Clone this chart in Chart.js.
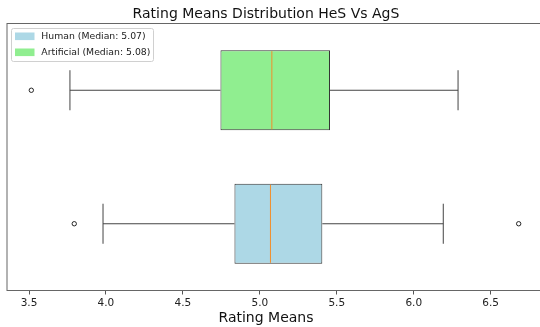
<!DOCTYPE html>
<html>
<head>
<meta charset="utf-8">
<title>Rating Means Distribution HeS Vs AgS</title>
<script src="https://cdn.jsdelivr.net/npm/chart.js@4.4.1/dist/chart.umd.min.js"></script>
<style>
  html, body { margin: 0; padding: 0; background: #fff; overflow: hidden; width: 540px; height: 327px; }
  canvas { display: block; }
</style>
</head>
<body>
<canvas id="boxChart" width="545" height="327"></canvas>
<script>
// rows, top to bottom
const categories = ["Artificial", "Human"];
const whiskerLow = [3.766, 3.981];
const q1 = [4.744, 4.835];
const median = [5.078, 5.069];
const q3 = [5.456, 5.406];
const whiskerHigh = [6.288, 6.192];
const outliers = [[3.515], [3.794, 6.682]];

const xTicks = [3.5, 4.0, 4.5, 5.0, 5.5, 6.0, 6.5];
const legendLabels = ["Human (Median: 5.07)", "Artificial (Median: 5.08)"];

const boxColors = ["#90ee90", "#add8e6"];
const legendColors = ["#add8e6", "#90ee90"];
const FONT = "'DejaVu Sans', sans-serif";

// whiskers, caps, medians, fliers, frame, legend and titles
const boxExtras = {
  id: "boxExtras",
  afterDatasetsDraw(chart) {
    const { ctx, chartArea, scales } = chart;
    const xs = scales.x, ys = scales.y;
    const bars = chart.getDatasetMeta(0).data;
    ctx.save();
    categories.forEach((c, i) => {
      const y = ys.getPixelForValue(i);
      const half = bars[i].getProps(["height"], true).height / 2;
      const cap = half / 2;
      ctx.strokeStyle = "#444";
      ctx.lineWidth = 1;
      ctx.beginPath();
      ctx.moveTo(xs.getPixelForValue(whiskerLow[i]), y);
      ctx.lineTo(xs.getPixelForValue(q1[i]), y);
      ctx.moveTo(xs.getPixelForValue(q3[i]), y);
      ctx.lineTo(xs.getPixelForValue(whiskerHigh[i]), y);
      [whiskerLow[i], whiskerHigh[i]].forEach(v => {
        const x = xs.getPixelForValue(v);
        ctx.moveTo(x, y - cap);
        ctx.lineTo(x, y + cap);
      });
      ctx.stroke();

      ctx.strokeStyle = "#f28e2b";
      ctx.beginPath();
      const mx = xs.getPixelForValue(median[i]);
      ctx.moveTo(mx, y - half + 1);
      ctx.lineTo(mx, y + half - 1);
      ctx.stroke();

      ctx.strokeStyle = "#222";
      outliers[i].forEach(v => {
        ctx.beginPath();
        ctx.arc(xs.getPixelForValue(v), y, 2.2, 0, Math.PI * 2);
        ctx.stroke();
      });
    });

    // axes frame
    ctx.strokeStyle = "#666";
    ctx.lineWidth = 1;
    ctx.strokeRect(chartArea.left, chartArea.top, chartArea.right - chartArea.left, chartArea.bottom - chartArea.top);

    // legend
    const lx = 11.5, ly = 28.5;
    ctx.fillStyle = "rgba(255,255,255,0.8)";
    ctx.strokeStyle = "#d0d0d0";
    ctx.beginPath();
    ctx.roundRect(lx, ly, 142, 33, 2);
    ctx.fill();
    ctx.stroke();
    ctx.font = "9.3px " + FONT;
    ctx.textBaseline = "middle";
    legendLabels.forEach((lab, i) => {
      const cy = 36.3 + i * 16;
      ctx.fillStyle = legendColors[i];
      ctx.fillRect(15, cy - 3.8, 19.5, 7.6);
      ctx.fillStyle = "#222";
      ctx.fillText(lab, 41.3, cy);
    });

    // titles
    ctx.fillStyle = "#111";
    ctx.textAlign = "center";
    ctx.textBaseline = "alphabetic";
    ctx.font = "14px " + FONT;
    ctx.fillText("Rating Means Distribution HeS Vs AgS", 266, 17.8);
    ctx.fillText("Rating Means", 266, 321.5);
    ctx.restore();
  }
};

new Chart(document.getElementById("boxChart"), {
  type: "bar",
  data: {
    labels: categories,
    datasets: [{
      label: "Rating Means",
      data: categories.map((c, i) => [q1[i], q3[i]]),
      backgroundColor: boxColors,
      borderColor: "#333",
      borderWidth: 1,
      borderSkipped: false,
      barPercentage: 0.6,
      categoryPercentage: 1
    }]
  },
  options: {
    indexAxis: "y",
    responsive: false,
    animation: false,
    devicePixelRatio: 1,
    layout: { padding: { left: 7, right: 2, top: 23.5, bottom: 15.9 } },
    plugins: {
      legend: { display: false },
      title: { display: false },
      tooltip: { enabled: false }
    },
    scales: {
      x: {
        type: "linear",
        min: 3.357,
        max: 6.84,
        afterBuildTicks: scale => { scale.ticks = xTicks.map(v => ({ value: v })); },
        grid: { display: true, drawOnChartArea: false, drawTicks: true, tickLength: 4, tickColor: "#555" },
        border: { display: true, color: "#666" },
        ticks: {
          padding: 2,
          color: "#222",
          font: { family: FONT, size: 10.5 },
          maxRotation: 0,
          callback: v => v.toFixed(1)
        }
      },
      y: {
        type: "category",
        display: false
      }
    }
  },
  plugins: [boxExtras]
});
</script>
</body>
</html>
